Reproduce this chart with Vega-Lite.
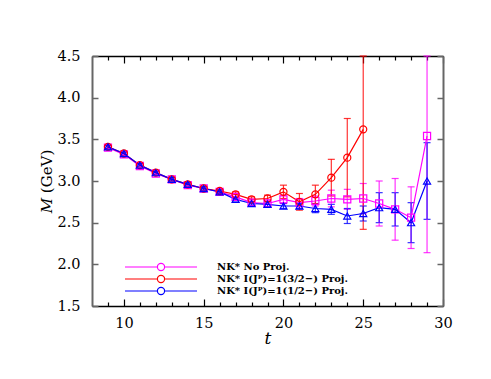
{
  "$schema": "https://vega.github.io/schema/vega-lite/v6.json",
  "width": 351,
  "height": 250,
  "autosize": "none",
  "padding": {"left": 92, "top": 56, "right": 48, "bottom": 73},
  "background": "white",
  "config": {
    "view": {"stroke": null},
    "font": "DejaVu Serif",
    "legend": {"orient": "none", "legendX": 64, "legendY": 206, "title": null, "padding": 0, "symbolOffset": 0, "labelOffset": 51,
      "rowPadding": 0, "labelFont": "DejaVu Serif", "labelFontWeight": "bold", "labelFontSize": 10, "symbolSize": 64, "symbolStrokeWidth": 1.2, "symbolFillColor": "transparent"}
  },
  "data": {"values": [
    {"s": "NK* No Proj.", "t": 9, "M": 3.40, "e": 0.02},
    {"s": "NK* No Proj.", "t": 10, "M": 3.32, "e": 0.02},
    {"s": "NK* No Proj.", "t": 11, "M": 3.18, "e": 0.02},
    {"s": "NK* No Proj.", "t": 12, "M": 3.09, "e": 0.02},
    {"s": "NK* No Proj.", "t": 13, "M": 3.02, "e": 0.02},
    {"s": "NK* No Proj.", "t": 14, "M": 2.95, "e": 0.02},
    {"s": "NK* No Proj.", "t": 15, "M": 2.91, "e": 0.02},
    {"s": "NK* No Proj.", "t": 16, "M": 2.87, "e": 0.02},
    {"s": "NK* No Proj.", "t": 17, "M": 2.81, "e": 0.03},
    {"s": "NK* No Proj.", "t": 18, "M": 2.74, "e": 0.03},
    {"s": "NK* No Proj.", "t": 19, "M": 2.73, "e": 0.04},
    {"s": "NK* No Proj.", "t": 20, "M": 2.78, "e": 0.05},
    {"s": "NK* No Proj.", "t": 21, "M": 2.74, "e": 0.05},
    {"s": "NK* No Proj.", "t": 22, "M": 2.76, "e": 0.06},
    {"s": "NK* No Proj.", "t": 23, "M": 2.79, "e": 0.10},
    {"s": "NK* No Proj.", "t": 24, "M": 2.78, "e": 0.12},
    {"s": "NK* No Proj.", "t": 25, "M": 2.79, "e": 0.18},
    {"s": "NK* No Proj.", "t": 26, "M": 2.73, "e": 0.27},
    {"s": "NK* No Proj.", "t": 27, "M": 2.66, "e": 0.37},
    {"s": "NK* No Proj.", "t": 28, "M": 2.56, "e": 0.37},
    {"s": "NK* No Proj.", "t": 29, "M": 3.54, "e": 1.40},
    {"s": "NK* I(Jᴾ)=1(3/2−) Proj.", "t": 9, "M": 3.41, "e": 0.02},
    {"s": "NK* I(Jᴾ)=1(3/2−) Proj.", "t": 10, "M": 3.33, "e": 0.02},
    {"s": "NK* I(Jᴾ)=1(3/2−) Proj.", "t": 11, "M": 3.19, "e": 0.02},
    {"s": "NK* I(Jᴾ)=1(3/2−) Proj.", "t": 12, "M": 3.10, "e": 0.02},
    {"s": "NK* I(Jᴾ)=1(3/2−) Proj.", "t": 13, "M": 3.02, "e": 0.02},
    {"s": "NK* I(Jᴾ)=1(3/2−) Proj.", "t": 14, "M": 2.96, "e": 0.02},
    {"s": "NK* I(Jᴾ)=1(3/2−) Proj.", "t": 15, "M": 2.91, "e": 0.02},
    {"s": "NK* I(Jᴾ)=1(3/2−) Proj.", "t": 16, "M": 2.88, "e": 0.02},
    {"s": "NK* I(Jᴾ)=1(3/2−) Proj.", "t": 17, "M": 2.84, "e": 0.03},
    {"s": "NK* I(Jᴾ)=1(3/2−) Proj.", "t": 18, "M": 2.78, "e": 0.03},
    {"s": "NK* I(Jᴾ)=1(3/2−) Proj.", "t": 19, "M": 2.79, "e": 0.04},
    {"s": "NK* I(Jᴾ)=1(3/2−) Proj.", "t": 20, "M": 2.87, "e": 0.08},
    {"s": "NK* I(Jᴾ)=1(3/2−) Proj.", "t": 21, "M": 2.75, "e": 0.10},
    {"s": "NK* I(Jᴾ)=1(3/2−) Proj.", "t": 22, "M": 2.84, "e": 0.11},
    {"s": "NK* I(Jᴾ)=1(3/2−) Proj.", "t": 23, "M": 3.04, "e": 0.22},
    {"s": "NK* I(Jᴾ)=1(3/2−) Proj.", "t": 24, "M": 3.28, "e": 0.47},
    {"s": "NK* I(Jᴾ)=1(3/2−) Proj.", "t": 25, "M": 3.62, "e": 1.20},
    {"s": "NK* I(Jᴾ)=1(1/2−) Proj.", "t": 9, "M": 3.41, "e": 0.02},
    {"s": "NK* I(Jᴾ)=1(1/2−) Proj.", "t": 10, "M": 3.33, "e": 0.02},
    {"s": "NK* I(Jᴾ)=1(1/2−) Proj.", "t": 11, "M": 3.19, "e": 0.02},
    {"s": "NK* I(Jᴾ)=1(1/2−) Proj.", "t": 12, "M": 3.10, "e": 0.02},
    {"s": "NK* I(Jᴾ)=1(1/2−) Proj.", "t": 13, "M": 3.02, "e": 0.02},
    {"s": "NK* I(Jᴾ)=1(1/2−) Proj.", "t": 14, "M": 2.96, "e": 0.02},
    {"s": "NK* I(Jᴾ)=1(1/2−) Proj.", "t": 15, "M": 2.91, "e": 0.02},
    {"s": "NK* I(Jᴾ)=1(1/2−) Proj.", "t": 16, "M": 2.87, "e": 0.02},
    {"s": "NK* I(Jᴾ)=1(1/2−) Proj.", "t": 17, "M": 2.78, "e": 0.02},
    {"s": "NK* I(Jᴾ)=1(1/2−) Proj.", "t": 18, "M": 2.73, "e": 0.02},
    {"s": "NK* I(Jᴾ)=1(1/2−) Proj.", "t": 19, "M": 2.72, "e": 0.03},
    {"s": "NK* I(Jᴾ)=1(1/2−) Proj.", "t": 20, "M": 2.70, "e": 0.03},
    {"s": "NK* I(Jᴾ)=1(1/2−) Proj.", "t": 21, "M": 2.70, "e": 0.03},
    {"s": "NK* I(Jᴾ)=1(1/2−) Proj.", "t": 22, "M": 2.67, "e": 0.05},
    {"s": "NK* I(Jᴾ)=1(1/2−) Proj.", "t": 23, "M": 2.66, "e": 0.06},
    {"s": "NK* I(Jᴾ)=1(1/2−) Proj.", "t": 24, "M": 2.58, "e": 0.09},
    {"s": "NK* I(Jᴾ)=1(1/2−) Proj.", "t": 25, "M": 2.61, "e": 0.09},
    {"s": "NK* I(Jᴾ)=1(1/2−) Proj.", "t": 26, "M": 2.68, "e": 0.18},
    {"s": "NK* I(Jᴾ)=1(1/2−) Proj.", "t": 27, "M": 2.66, "e": 0.20},
    {"s": "NK* I(Jᴾ)=1(1/2−) Proj.", "t": 28, "M": 2.50, "e": 0.24},
    {"s": "NK* I(Jᴾ)=1(1/2−) Proj.", "t": 29, "M": 3.00, "e": 0.46}
  ]},
  "layer": [
    {
      "mark": {"type": "errorbar", "ticks": true, "size": 7, "thickness": 1.2, "opacity": 0.8},
      "encoding": {
        "x": {"field": "t", "type": "quantitative", "scale": {"domain": [8, 30], "nice": false, "zero": false}, "axis": null},
        "y": {"field": "M", "type": "quantitative", "scale": {"domain": [1.5, 4.5], "nice": false, "zero": false, "clamp": true}, "axis": null},
        "yError": {"field": "e"},
        "color": {"field": "s", "type": "nominal", "legend": null,
          "scale": {"domain": ["NK* No Proj.", "NK* I(Jᴾ)=1(3/2−) Proj.", "NK* I(Jᴾ)=1(1/2−) Proj."], "range": ["#ff00ff", "#ff0000", "#0000ff"]}}
      }
    },
    {
      "mark": {"type": "line", "strokeWidth": 1.2},
      "encoding": {
        "x": {"field": "t", "type": "quantitative",
          "axis": {"orient": "bottom", "values": [9,10,11,12,13,14,15,16,17,18,19,20,21,22,23,24,25,26,27,28,29,30],
            "labelExpr": "datum.value % 5 === 0 ? datum.label : ''", "grid": false,
            "tickSize": {"condition": {"test": "datum.value % 5 === 0", "value": -7}, "value": -4},
            "tickColor": "black", "tickWidth": 1.2, "domainColor": "black", "domainWidth": 1.5,
            "labelFont": "DejaVu Serif", "labelFontSize": 14.5, "labelColor": "black", "labelPadding": 17,
            "labelFlush": false, "labelOverlap": false,
            "title": "t", "titleFont": "DejaVu Serif", "titleFontStyle": "italic", "titleFontWeight": "normal", "titleFontSize": 17, "titlePadding": -2, "titleColor": "black"}},
        "y": {"field": "M", "type": "quantitative",
          "axis": {"orient": "left", "values": [1.5, 2, 2.5, 3, 3.5, 4, 4.5], "format": ".1f", "grid": false,
            "tickSize": -6, "tickColor": "#666", "tickWidth": 1.5, "domainColor": "#666", "domainWidth": 2,
            "labelFont": "DejaVu Serif", "labelFontSize": 14.5, "labelColor": "black", "labelPadding": 18,
            "labelFlush": false, "labelOverlap": false,
            "title": "𝑀 (GeV)", "titleFont": "DejaVu Serif", "titleFontWeight": "normal", "titleFontSize": 15, "titlePadding": 2, "titleColor": "black"}},
        "color": {"field": "s", "type": "nominal", "legend": null,
          "scale": {"domain": ["NK* No Proj.", "NK* I(Jᴾ)=1(3/2−) Proj.", "NK* I(Jᴾ)=1(1/2−) Proj."], "range": ["#ff00ff", "#ff0000", "#0000ff"]}}
      }
    },
    {
      "mark": {"type": "point", "filled": false, "size": 50, "strokeWidth": 1.2, "opacity": 1},
      "encoding": {
        "x": {"field": "t", "type": "quantitative",
          "axis": {"orient": "top", "values": [9,10,11,12,13,14,15,16,17,18,19,20,21,22,23,24,25,26,27,28,29,30],
            "labels": false, "grid": false, "title": null,
            "tickSize": {"condition": {"test": "datum.value % 5 === 0", "value": -7}, "value": -4},
            "tickColor": "black", "tickWidth": 1.2, "domainColor": "black", "domainWidth": 1.5}},
        "y": {"field": "M", "type": "quantitative",
          "axis": {"orient": "right", "values": [1.5, 2, 2.5, 3, 3.5, 4, 4.5], "labels": false, "grid": false, "title": null,
            "tickSize": -6, "tickColor": "#666", "tickWidth": 1.5, "domainColor": "#666", "domainWidth": 2}},
        "color": {"field": "s", "type": "nominal",
          "scale": {"domain": ["NK* No Proj.", "NK* I(Jᴾ)=1(3/2−) Proj.", "NK* I(Jᴾ)=1(1/2−) Proj."], "range": ["#ff00ff", "#ff0000", "#0000ff"]},
          "legend": {"symbolType": "M-9,0H-0.9M0.9,0H9M-0.9,0A0.9,0.9 0 1,1 0.9,0A0.9,0.9 0 1,1 -0.9,0Z",
            "encode": {
              "symbols": {"fill": {"value": "transparent"}},
              "labels": {"fill": {"value": {"expr": "indexof(datum.value, 'No') >= 0 ? '#ff00ff' : indexof(datum.value, '3/2') >= 0 ? '#ff0000' : '#0000ff'"}}}
            }}},
        "shape": {"field": "s", "type": "nominal", "legend": null,
          "scale": {"domain": ["NK* No Proj.", "NK* I(Jᴾ)=1(3/2−) Proj.", "NK* I(Jᴾ)=1(1/2−) Proj."], "range": ["square", "circle", "triangle-up"]}}
      }
    }
  ],
  "resolve": {"axis": {"x": "independent", "y": "independent"}, "scale": {"color": "independent"}, "legend": {"color": "independent"}}
}
